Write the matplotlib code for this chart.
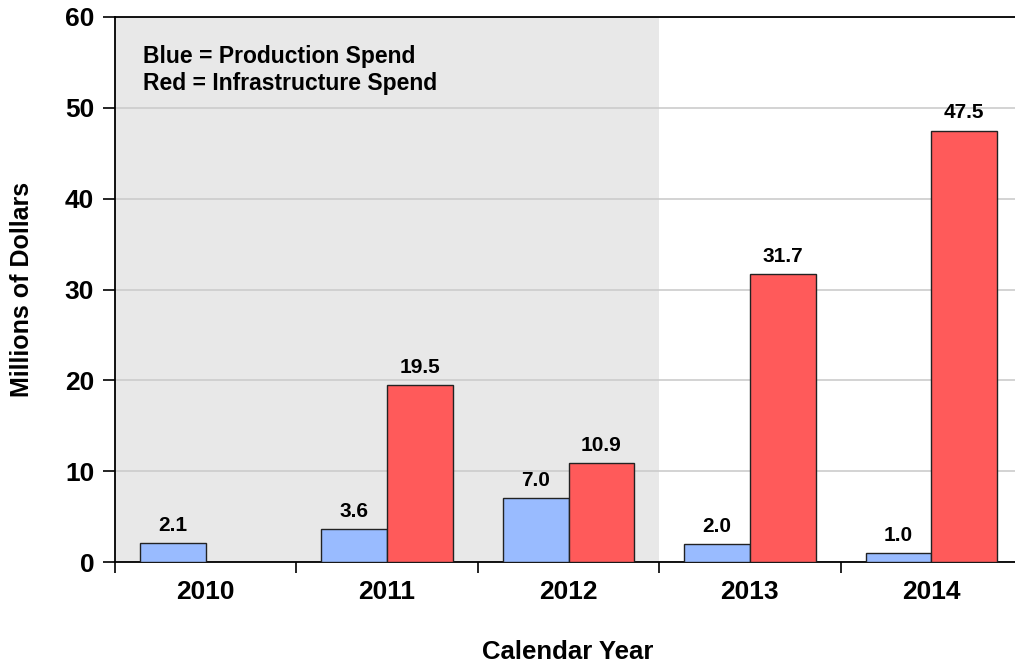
import matplotlib.pyplot as plt
import numpy as np

years = ['2010', '2011', '2012', '2013', '2014']
production = [2.1, 3.6, 7.0, 2.0, 1.0]
infrastructure = [np.nan, 19.5, 10.9, 31.7, 47.5]

plt.rcParams['font.family'] = ['Liberation Sans', 'DejaVu Sans']
plt.rcParams['font.weight'] = 'bold'

fig = plt.figure(figsize=(10.15, 6.67), dpi=100)
ax = fig.add_axes([115/1015, 1 - 562/667, 907/1015, 545/667])

x = np.arange(len(years))
w = 0.362
ax.axvspan(-0.5, 2.5, color='#e8e8e8', zorder=0, lw=0)
ax.set_axisbelow(True)
ax.yaxis.grid(True, color='#cccccc', lw=1.2)

b1 = ax.bar(x - w/2, production, w, color='#99bbff', edgecolor='#222222', lw=1, zorder=3)
b2 = ax.bar(x + w/2, infrastructure, w, color='#ff5a5a', edgecolor='#222222', lw=1, zorder=3)

for xi, v in zip(x, production):
    ax.annotate(f'{v:.1f}', (xi - w/2, v), xytext=(0, 6), textcoords='offset points',
                ha='center', va='bottom', fontsize=15, fontweight='bold')
for xi, v in zip(x, infrastructure):
    if not np.isnan(v):
        ax.annotate(f'{v:.1f}', (xi + w/2, v), xytext=(0, 6), textcoords='offset points',
                    ha='center', va='bottom', fontsize=15, fontweight='bold')

ax.set_xlim(-0.5, 4.5)
ax.set_ylim(0, 60)
ax.set_yticks(range(0, 61, 10))
ax.set_xticks(x - 0.5)
ax.set_xticklabels([])
ax.set_xticks(x, minor=True)
ax.set_xticklabels(years, minor=True)
ax.tick_params(axis='x', which='major', length=8, width=1.2, direction='out')
ax.tick_params(axis='x', which='minor', length=0, pad=13, labelsize=19)
ax.tick_params(axis='y', length=9, width=1.2, pad=6, labelsize=19)

for s in ['left', 'top', 'bottom']:
    ax.spines[s].set_linewidth(1.3)
ax.spines['right'].set_visible(False)

ax.text(0.031, 0.948, 'Blue = Production Spend\nRed = Infrastructure Spend', transform=ax.transAxes,
        ha='left', va='top', fontsize=16.5, fontweight='bold', linespacing=1.2)

ax.set_ylabel('Millions of Dollars', fontsize=18, fontweight='bold', labelpad=22)
fig.text(568/1015, 1 - 652/667, 'Calendar Year', ha='center', va='center', fontsize=18.5, fontweight='bold')

fig.savefig('out.png', dpi=100)
